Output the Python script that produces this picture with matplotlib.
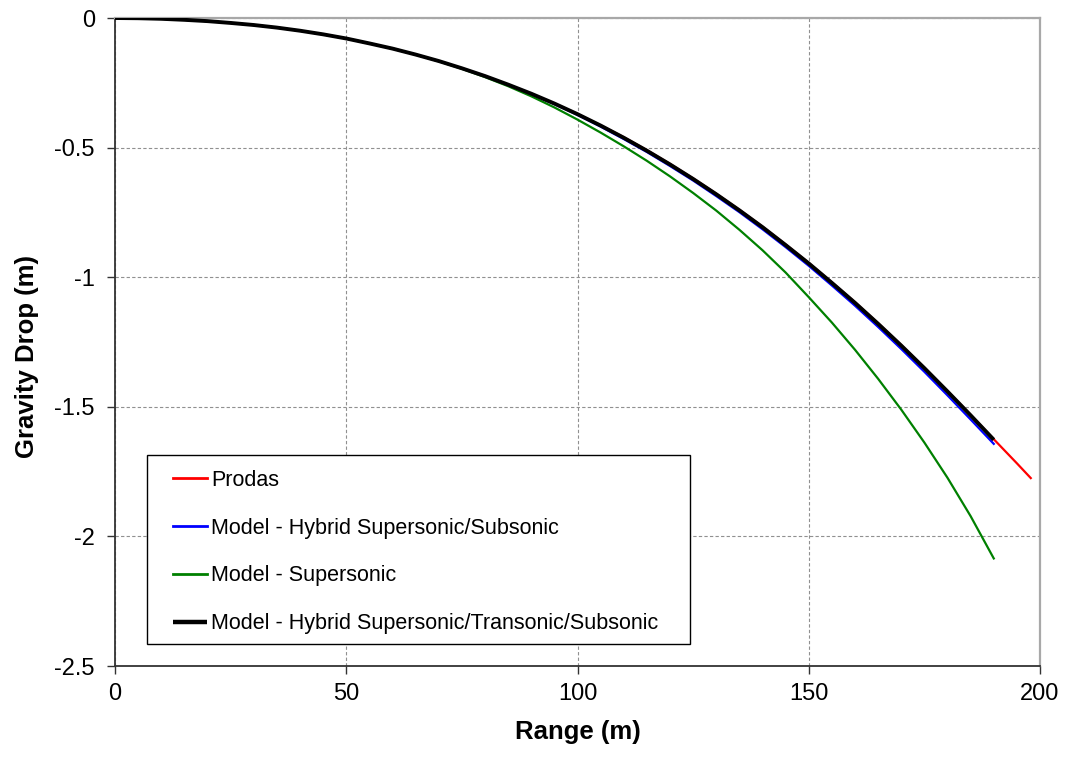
import matplotlib
matplotlib.use("Agg")
import matplotlib.pyplot as plt
from matplotlib.patches import Rectangle

plt.rcParams['font.family'] = ['Liberation Sans', 'DejaVu Sans']

# ---- Data (Range in m, Gravity drop in m) ----
range_model = [0, 5, 10, 15, 20, 25, 30, 35, 40, 45, 50, 55, 60, 65, 70, 75, 80, 85, 90, 95,
               100, 105, 110, 115, 120, 125, 130, 135, 140, 145, 150, 155, 160, 165, 170, 175,
               180, 185, 190]

drop_trans = [0, -0.0008, -0.003, -0.007, -0.012, -0.019, -0.027, -0.037, -0.049, -0.063,
              -0.079, -0.098, -0.118, -0.141, -0.166, -0.194, -0.224, -0.257, -0.292, -0.330,
              -0.371, -0.415, -0.462, -0.512, -0.565, -0.621, -0.680, -0.742, -0.807, -0.876,
              -0.947, -1.022, -1.099, -1.180, -1.264, -1.351, -1.441, -1.533, -1.627]

drop_hybrid = [0, -0.0008, -0.003, -0.007, -0.012, -0.019, -0.027, -0.037, -0.049, -0.063,
               -0.079, -0.098, -0.118, -0.141, -0.166, -0.194, -0.224, -0.257, -0.293, -0.332,
               -0.374, -0.419, -0.467, -0.517, -0.571, -0.627, -0.687, -0.749, -0.815, -0.884,
               -0.956, -1.032, -1.110, -1.192, -1.277, -1.365, -1.456, -1.549, -1.643]

drop_super = [0, -0.0008, -0.003, -0.007, -0.012, -0.019, -0.027, -0.037, -0.049, -0.063,
              -0.079, -0.098, -0.118, -0.141, -0.167, -0.196, -0.228, -0.263, -0.302, -0.345,
              -0.392, -0.442, -0.495, -0.551, -0.611, -0.675, -0.743, -0.817, -0.896, -0.982,
              -1.077, -1.175, -1.280, -1.392, -1.511, -1.638, -1.774, -1.922, -2.085]

range_prodas = [0, 5, 10, 15, 20, 25, 30, 35, 40, 45, 50, 55, 60, 65, 70, 75, 80, 85, 90, 95,
                100, 105, 110, 115, 120, 125, 130, 135, 140, 145, 150, 155, 160, 165, 170, 175,
                180, 185, 190, 195, 198]
drop_prodas = [0, -0.0008, -0.003, -0.007, -0.012, -0.019, -0.027, -0.037, -0.049, -0.063,
               -0.079, -0.098, -0.118, -0.141, -0.166, -0.194, -0.224, -0.257, -0.292, -0.330,
               -0.370, -0.414, -0.460, -0.510, -0.563, -0.619, -0.678, -0.740, -0.805, -0.874,
               -0.945, -1.020, -1.097, -1.178, -1.262, -1.349, -1.439, -1.531, -1.625, -1.718,
               -1.775]

labels = ["Prodas", "Model - Hybrid Supersonic/Subsonic", "Model - Supersonic",
          "Model - Hybrid Supersonic/Transonic/Subsonic"]
x_ticks = [0, 50, 100, 150, 200]
y_ticks = [0, -0.5, -1, -1.5, -2, -2.5]
y_tick_labels = ["0", "-0.5", "-1", "-1.5", "-2", "-2.5"]

fig = plt.figure(figsize=(10.68, 7.57), dpi=100)
ax = fig.add_axes([0.1077, 0.1202, 0.8661, 0.8560])

l1, = ax.plot(range_prodas, drop_prodas, color='#ff0000', lw=1.6, zorder=3)
l2, = ax.plot(range_model, drop_hybrid, color='#0000ff', lw=1.6, zorder=4)
l3, = ax.plot(range_model, drop_super, color='#008000', lw=1.6, zorder=4)
l4, = ax.plot(range_model, drop_trans, color='#000000', lw=2.8, zorder=5,
              solid_capstyle='butt')

ax.set_xlim(0, 200)
ax.set_ylim(-2.5, 0)
ax.set_xticks(x_ticks)
ax.set_xticklabels([str(t) for t in x_ticks])
ax.set_yticks(y_ticks)
ax.set_yticklabels(y_tick_labels)

ax.grid(True, color='#909090', linestyle=(0, (3, 2)), linewidth=0.8)
ax.set_axisbelow(True)

for s in ['top', 'right']:
    ax.spines[s].set_color('#a8a8a8')
    ax.spines[s].set_linewidth(1.6)
for s in ['left', 'bottom']:
    ax.spines[s].set_color('#333333')
    ax.spines[s].set_linewidth(1.3)

ax.tick_params(direction='out', length=6, width=1.0, color='#333333', labelsize=17)
ax.tick_params(axis='y', pad=8.5)
ax.tick_params(axis='x', pad=6)

ax.set_xlabel("Range (m)", fontsize=18.5, fontweight='bold', labelpad=11)
ax.set_ylabel("Gravity Drop (m)", fontsize=18.5, fontweight='bold', labelpad=11)
ax.yaxis.label.set_y(0.478)

# legend box (frame drawn separately to match padding)
ax.add_patch(Rectangle((0.0346, 0.034), 0.587, 0.2916, transform=ax.transAxes,
                       facecolor='white', edgecolor='black', lw=1.0, zorder=6))
leg = ax.legend([l1, l2, l3, l4], labels, loc='upper left',
                bbox_to_anchor=(0.0627, 0.3025), fontsize=15.5, frameon=False,
                handlelength=1.58, handletextpad=0.2, labelspacing=1.24,
                borderpad=0, borderaxespad=0)
leg.set_zorder(7)
for line in leg.get_lines():
    line.set_linewidth(2.0)
leg.get_lines()[3].set_linewidth(3.2)

fig.savefig("out.png", dpi=100)
